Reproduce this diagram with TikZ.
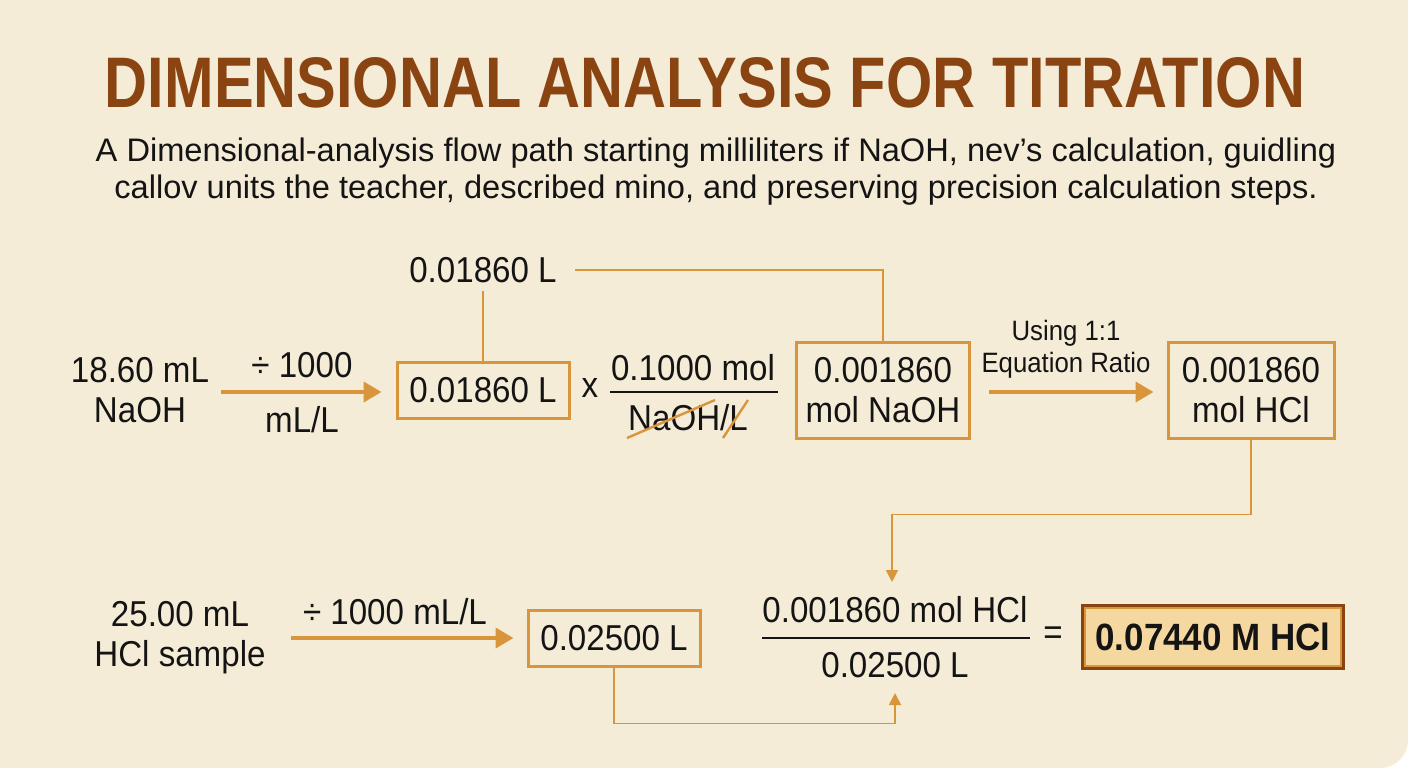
\documentclass[tikz,border=0pt]{standalone}
\usepackage{graphicx}
\usepackage{fontspec}
\setmainfont[FakeStretch=0.92]{Liberation Sans}
\newfontfamily\subfont{Liberation Sans}
\usetikzlibrary{arrows.meta}
\definecolor{paper}{HTML}{F5ECD7}
\definecolor{rust}{HTML}{8A4412}
\definecolor{amber}{HTML}{D8953C}
\definecolor{ink}{HTML}{141414}
\definecolor{resultfill}{HTML}{F5D8A0}

\begin{document}
\begin{tikzpicture}[
    x=0.5pt, y=-0.5pt,
    every node/.style = {text=ink, font=\fontsize{18}{20}\selectfont, align=center, inner sep=0pt},
    box/.style = {draw=amber, line width=1.5pt, minimum width=86pt, minimum height=28pt},
    resultbox/.style = {draw=rust, fill=resultfill, line width=2pt, minimum width=130pt, minimum height=31pt},
    flow/.style = {draw=amber, line width=2pt, -{Triangle[length=9pt,width=10pt]}},
    link/.style = {draw=amber, line width=0.9pt},
    linkarrow/.style = {link, -{Triangle[length=6pt,width=6pt]}},
    bar/.style = {draw=ink, line width=1pt},
    strike/.style = {draw=amber, line width=1.2pt}
  ]
\fill[white] (0,0) rectangle (1408,768);
\fill[paper] (0,0) -- (1408,0) [rounded corners=14pt] -- (1408,768) [sharp corners] -- (0,768) -- cycle;
\useasboundingbox (0,0) rectangle (1408,768);

\node (title) at (705,83) {\resizebox{600pt}{25pt}{\color{rust}\bfseries DIMENSIONAL ANALYSIS FOR TITRATION}};
\node (subtitle) at (716,172) [font=\subfont\fontsize{16.3}{18.5}\selectfont]
  {A Dimensional-analysis flow path starting milliliters if NaOH, nev’s calculation, guidling\\
   callov units the teacher, described mino, and preserving precision calculation steps.};

\node (top18) at (483,270) {0.01860 L};
\node (naoh) at (140,390) {18.60 mL\\NaOH};
\node (div1) at (302,365) {÷ 1000};
\node (per1) at (302,420) {mL/L};
\node (L18) [box] at (483,390) {0.01860 L};
\node (times) at (590,388) {x};
\node (num1) at (693,368) {0.1000 mol};
\node (den1) at (688,418) {NaOH/L};
\node (molnaoh) [box, minimum width=86.5pt, minimum height=48pt] at (883,390) {0.001860\\mol NaOH};
\node (ratio) at (1066,349) [font=\fontsize{14}{16}\selectfont] {Using 1:1\\Equation Ratio};
\node (molhcl) [box, minimum width=83pt, minimum height=48pt] at (1251,390) {0.001860\\mol HCl};

\node (hclsample) at (180,638) {25.00 mL\\HCl sample};
\node (div2) at (395,612) {÷ 1000 mL/L};
\node (L25) [box] at (614,638) {0.02500 L};
\node (num2) at (895,610) {0.001860 mol HCl};
\node (den2) at (895,665) {0.02500 L};
\node (eq) at (1053,636) {=};
\node (result) [resultbox] at (1213,637) {\fontsize{19}{21}\selectfont\bfseries 0.07440 M HCl};
\draw[amber, line width=0.8pt] ([shift={(2pt,-2pt)}]result.north west) rectangle ([shift={(-2pt,2pt)}]result.south east);

\coordinate (drop) at (892,582);
\coordinate (rise) at (895,693);

\draw[flow] ([xshift=6pt,yshift=-1pt]naoh.east) -- ([xshift=-7pt,yshift=-1pt]L18.west);
\draw[flow] ([xshift=9pt,yshift=-1pt]molnaoh.east) -- ([xshift=-6.5pt,yshift=-1pt]molhcl.west);
\draw[flow] ([xshift=12.5pt]hclsample.east) -- ([xshift=-6.5pt]L25.west);

\draw[link, shorten <=4pt] (top18.south) -- (L18.north);
\draw[link] ([xshift=9pt]top18.east) -| (molnaoh.north);
\draw[linkarrow] (molhcl.south) -- ++(0,75) -| (drop);
\draw[linkarrow] (L25.south) -- ++(0,56) -| (rise);

\draw[bar] (610,392) -- (778,392);
\draw[bar] (762,638) -- (1030,638);
\draw[strike] (627,438) -- (715,400);
\draw[strike] (723,438) -- (748,400);
\end{tikzpicture}
\end{document}
